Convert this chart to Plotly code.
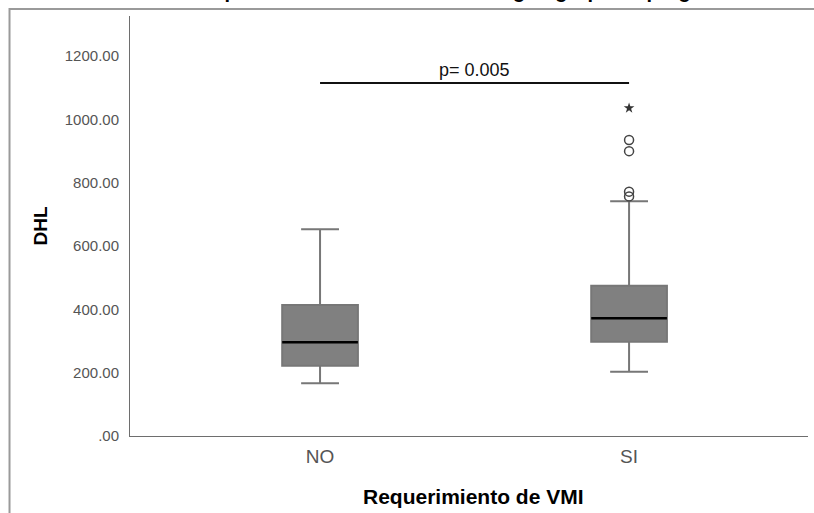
import plotly.graph_objects as go

# ---- data ----
groups = ["NO", "SI"]
lower_whisker = [167, 203]
q1_values = [222, 298]
medians = [296, 372]
q3_values = [414, 475]
upper_whisker = [653, 742]

outlier_groups = ["SI", "SI", "SI", "SI"]
outlier_values = [757, 772, 900, 935]
extreme_groups = ["SI"]
extreme_values = [1036]

p_label = "p= 0.005"
p_bracket_groups = ["NO", "SI"]
p_bracket_value = 1115

y_tick_vals = [0, 200, 400, 600, 800, 1000, 1200]
y_tick_text = [".00", "200.00", "400.00", "600.00", "800.00", "1000.00", "1200.00"]

x_title = "Requerimiento de VMI"
y_title = "DHL"
chart_title = "Comparación de niveles de DHL según grupo de progresión"

FONT = "Liberation Sans, Arial, sans-serif"

fig = go.Figure()

fig.add_trace(go.Box(
    x=groups, q1=q1_values, median=medians, q3=q3_values,
    lowerfence=lower_whisker, upperfence=upper_whisker,
    fillcolor="#808080", line=dict(color="#777777", width=2),
    width=0.245, whiskerwidth=0.5, boxpoints=False, showlegend=False,
))
# black median line
fig.add_trace(go.Box(
    x=groups, q1=medians, median=medians, q3=medians,
    lowerfence=medians, upperfence=medians,
    fillcolor="rgba(0,0,0,0)", line=dict(color="#000000", width=2.5),
    width=0.245, whiskerwidth=0, boxpoints=False, showlegend=False,
))
fig.add_trace(go.Scatter(
    x=outlier_groups, y=outlier_values, mode="markers",
    marker=dict(symbol="circle-open", size=9, color="#444444", line=dict(width=1.5, color="#444444")),
    showlegend=False,
))
fig.add_trace(go.Scatter(
    x=extreme_groups, y=extreme_values, mode="markers",
    marker=dict(symbol="star", size=8, color="#333333"),
    showlegend=False,
))
# p-value bracket
fig.add_trace(go.Scatter(
    x=p_bracket_groups, y=[p_bracket_value] * len(p_bracket_groups), mode="lines",
    line=dict(color="#111111", width=2), showlegend=False, hoverinfo="skip",
))

fig.add_annotation(
    x=0.5, y=p_bracket_value, xref="x", yref="y", text=p_label, showarrow=False,
    yanchor="bottom", yshift=1, font=dict(family=FONT, size=18, color="#111111"),
)
# axis titles
fig.add_annotation(
    x=0.506, y=-0.143, xref="paper", yref="paper", text="<b>" + x_title + "</b>",
    showarrow=False, xanchor="center", yanchor="middle",
    font=dict(family=FONT, size=21, color="#000000"),
)
fig.add_annotation(
    x=-0.1327, y=0.499, xref="paper", yref="paper", text="<b>" + y_title + "</b>",
    showarrow=False, textangle=-90, xanchor="center", yanchor="middle",
    font=dict(family=FONT, size=19, color="#000000"),
)
# title, clipped at the top of the image (as in the reference)
fig.add_annotation(
    x=0.495, y=1.028, xref="paper", yref="paper", text="<b>" + chart_title + "</b>",
    showarrow=False, xanchor="center", yanchor="bottom",
    font=dict(family=FONT, size=20, color="#000000"),
)

# outer frame
fig.add_shape(type="rect", xref="paper", yref="paper",
              x0=-0.1777, x1=1.3, y0=-0.4, y1=1.0167,
              line=dict(color="#9a9a9a", width=2), fillcolor="rgba(0,0,0,0)", layer="above")

fig.update_layout(
    width=814, height=513,
    margin=dict(l=130, r=6, t=16, b=77),
    plot_bgcolor="white", paper_bgcolor="white",
    boxmode="overlay",
    font=dict(family=FONT),
    xaxis=dict(
        type="category", range=[-0.615, 1.579], showgrid=False, zeroline=False,
        showline=True, linecolor="#6e6e6e", linewidth=1, ticks="",
        tickfont=dict(family=FONT, size=19, color="#555555"), ticklabelstandoff=3,
    ),
    yaxis=dict(
        range=[0, 1327], showgrid=False, zeroline=False,
        showline=True, linecolor="#6e6e6e", linewidth=1, ticks="",
        tickvals=y_tick_vals, ticktext=y_tick_text,
        tickfont=dict(family=FONT, size=15, color="#555555"), ticklabelstandoff=7,
    ),
)

fig.write_html("out.html", config={"displayModeBar": False},
               post_script="document.body.style.margin='0px';")
